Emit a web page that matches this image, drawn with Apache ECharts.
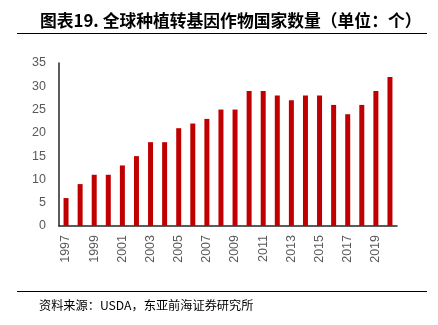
<!DOCTYPE html>
<html><head><meta charset="utf-8">
<script src="https://cdn.jsdelivr.net/npm/echarts@6/dist/echarts.min.js"></script>
<style>html,body{margin:0;padding:0;background:#fff}#c{width:438px;height:325px}</style>
</head><body><div id="c"></div>
<script>
const years = ['1997','1998','1999','2000','2001','2002','2003','2004','2005','2006','2007','2008','2009','2010','2011','2012','2013','2014','2015','2016','2017','2018','2019','2020'];
const countries = [6,9,11,11,13,15,18,18,21,22,23,25,25,29,29,28,27,28,28,26,24,26,29,32];
const titleText = '图表19. 全球种植转基因作物国家数量（单位：个）';
const sourceText = '资料来源：USDA，东亚前海证券研究所';

const chart = echarts.init(document.getElementById('c'), null, {renderer:'canvas'});
chart.setOption({
  animation:false,
  backgroundColor:'#fff',
  title:[
    {text:titleText, left:35, top:7, textStyle:{fontSize:16.8, fontWeight:'bold', color:'#000', fontFamily:'Noto Sans CJK SC'}},
    {text:sourceText, left:34, top:294, textStyle:{fontSize:12.2, fontWeight:'normal', color:'#000', fontFamily:'Noto Sans CJK SC'}}
  ],
  graphic:[
    {type:'line', shape:{x1:17,y1:33.5,x2:427,y2:33.5}, style:{stroke:'#000', lineWidth:1.2}},
    {type:'line', shape:{x1:17,y1:291.5,x2:427,y2:291.5}, style:{stroke:'#000', lineWidth:1.2}}
  ],
  grid:{left:59, right:41, top:63, bottom:99},
  xAxis:{
    type:'category', data:years,
    axisLine:{lineStyle:{color:'#262626', width:1.5}},
    axisTick:{show:false},
    axisLabel:{interval:1, rotate:90, margin:9, color:'#595959', fontSize:12.5, fontFamily:'Liberation Sans'}
  },
  yAxis:{
    type:'value', min:0, max:35, interval:5,
    axisLine:{show:true, lineStyle:{color:'#262626', width:1.5}},
    axisTick:{show:false},
    splitLine:{show:false},
    axisLabel:{color:'#595959', fontSize:12.5, margin:13, fontFamily:'Liberation Sans'}
  },
  series:[{
    type:'bar', data:countries, barWidth:5,
    itemStyle:{color:'#C00000'}
  }]
});
</script></body></html>
